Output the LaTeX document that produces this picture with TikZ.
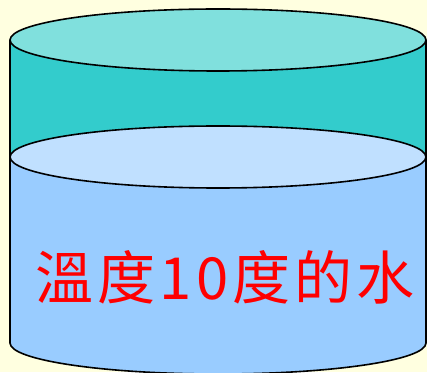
\documentclass[tikz,border=0pt]{standalone}
\usepackage{fontspec}
\newfontfamily\cjk[LetterSpace=7]{Noto Sans CJK TC}
\usepackage{tikz}
\usetikzlibrary{positioning}
\definecolor{paper}{RGB}{255,255,224}
\definecolor{lidtop}{RGB}{128,224,221}
\definecolor{lidside}{RGB}{51,204,204}
\definecolor{watertop}{RGB}{192,224,255}
\definecolor{waterside}{RGB}{153,204,255}
\begin{document}
\begin{tikzpicture}[x=1pt,y=1pt,line width=1.6pt,
    rim/.style={draw=black, line join=round}]
        \useasboundingbox (0,0) rectangle (427,372);
        \fill[paper] (0,0) rectangle (427,372);
        \clip (0,0) rectangle (427,372);
        % glass above the water
        \fill[lidside] (10,215) rectangle (426,332);
        \draw (10,215)--(10,332);
        \draw (426,215)--(426,332);
        % water body
        \draw[rim, fill=waterside] (10,215)--(10,29) arc (180:360:208 and 31)--(426,215);
        \draw[rim, fill=watertop] (218,215) ellipse (208 and 31);
        \draw[rim, fill=lidtop] (218,332) ellipse (208 and 31);
        \node (label) at (225,95) {\cjk\fontsize{58}{60}\selectfont\color{red}溫度10度的水};
    \end{tikzpicture}
\end{document}
